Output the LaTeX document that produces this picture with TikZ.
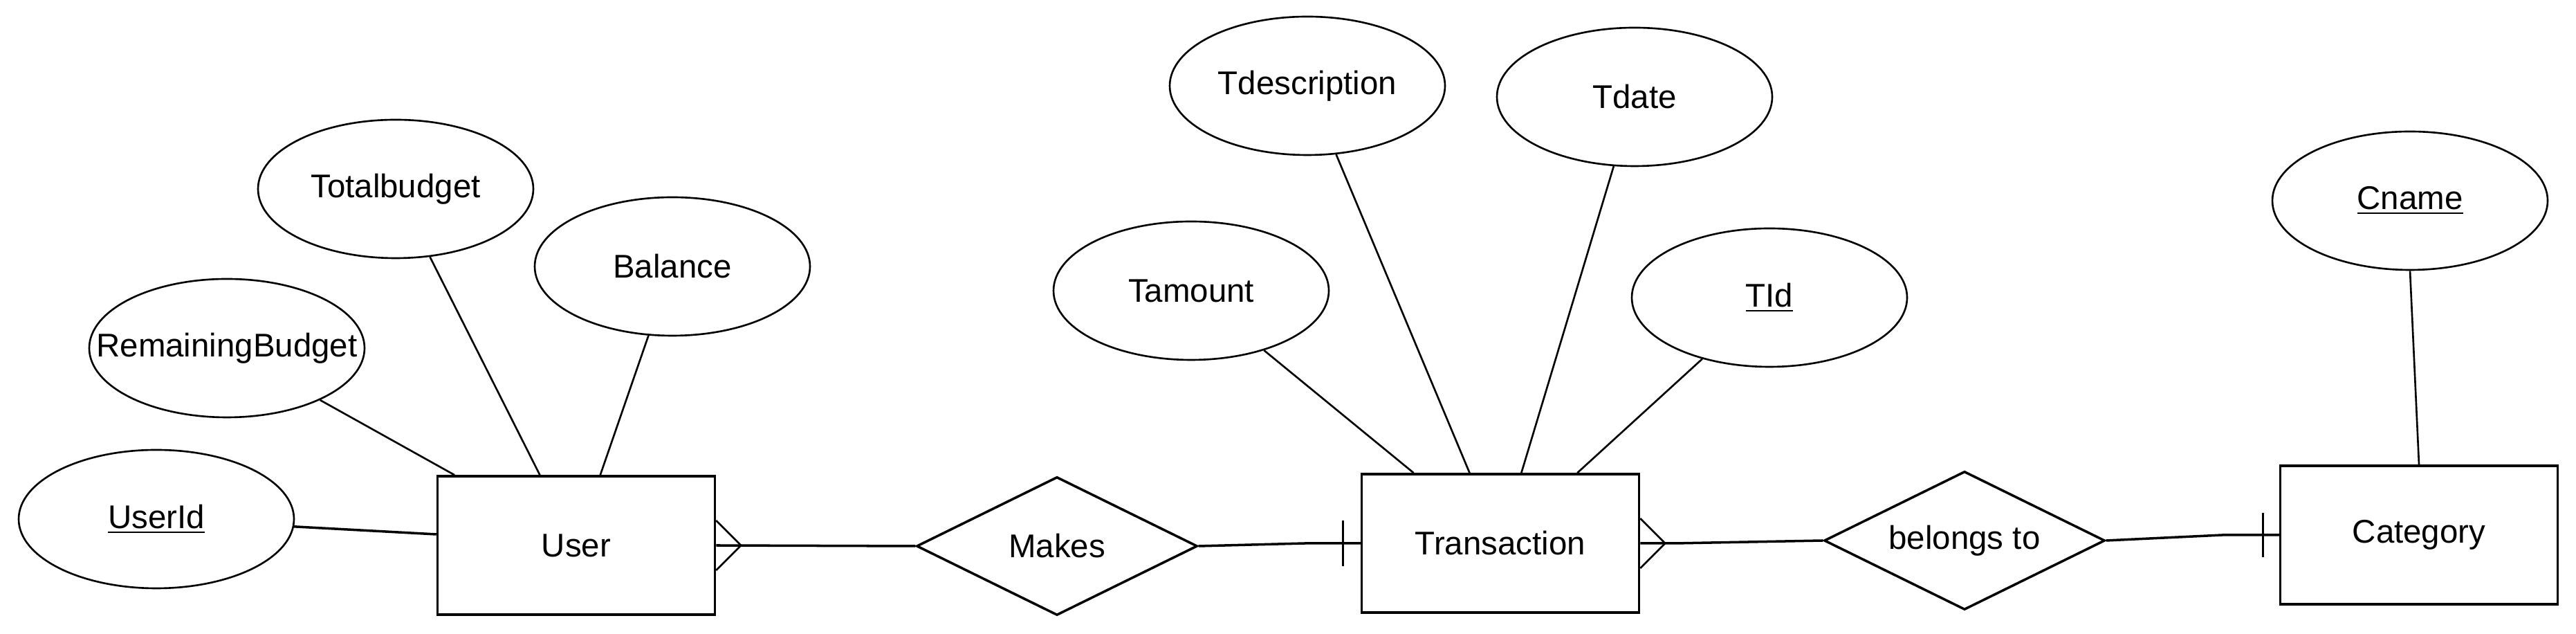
\documentclass[tikz,border=0pt]{standalone}
\usepackage{fontspec}
\setmainfont{Liberation Sans}
\usepackage{tikz}
\usetikzlibrary{calc, positioning, shapes.geometric}
\tikzset{
	line width = .75pt,
	font = \fontsize{13.5}{16}\selectfont,
	entity/.style={
		draw,
		rectangle,
		line width=1pt,
		minimum width=4.01cm,
		minimum height=2cm,
		inner sep=0pt
	},
	attribute/.style={
		draw,
		ellipse,
		line width=.75pt,
		minimum width=3.98cm,
		minimum height=2cm,
		inner sep=0pt
	},
	relation/.style={
		draw,
		diamond,
		aspect=2,
		line width=1pt,
		minimum width=4.06cm,
		minimum height=2cm,
		inner sep=0pt
	},
	link/.style={
		line width=.75pt
	},
	rel link/.style={
		line width=1pt
	}
}

\begin{document}
\begin{tikzpicture}
\path[use as bounding box] (0,0) rectangle (37.24,9.16);

% ---
% entities and relations
% ---
\node[entity] at (8.33,1.28) (e-user) {User};
\node[relation] at (15.28,1.27) (r-makes) {Makes};
\node[entity] at (21.69,1.31) (e-trans) {Transaction};
\node[relation] at (28.40,1.35) (r-belongs) {belongs to};
\node[entity] at (34.97,1.43) (e-cat) {Category};

% ---
% attributes
% ---
\node[attribute] at (2.26,1.66) (a-userid) {\underline{UserId}};
\node[attribute] at (3.28,4.13) (a-remaining) {\makebox[0pt]{RemainingBudget}};
\node[attribute] at (5.72,6.43) (a-total) {Totalbudget};
\node[attribute] at (9.72,5.31) (a-balance) {Balance};

\node[attribute] at (17.22,4.96) (a-tamount) {Tamount};
\node[attribute] at (18.90,7.92) (a-tdesc) {Tdescription};
\node[attribute] at (23.63,7.76) (a-tdate) {Tdate};
\node[attribute] at (25.58,4.86) (a-tid) {\underline{TId}};

\node[attribute] at (34.84,6.26) (a-cname) {\underline{Cname}};

% ---
% attribute links
% ---
\draw[rel link] (a-userid) -- ($(e-user.west)+(0,.16)$);
\draw[link] (a-remaining) -- ($(e-user.north west)!.065!(e-user.north east)$);
\draw[link] (a-total) -- ($(e-user.north west)!.37!(e-user.north east)$);
\draw[link] (a-balance) -- ($(e-user.north west)!.586!(e-user.north east)$);

\draw[link] (a-tamount) -- ($(e-trans.north west)!.19!(e-trans.north east)$);
\draw[link] (a-tdesc) -- ($(e-trans.north west)!.39!(e-trans.north east)$);
\draw[link] (a-tdate) -- ($(e-trans.north west)!.575!(e-trans.north east)$);
\draw[link] (a-tid) -- ($(e-trans.north west)!.775!(e-trans.north east)$);

\draw[link] (a-cname.south) -- (e-cat.north);

% ---
% relation links
% ---
\draw[rel link] (e-user.east) -- (r-makes.west);
\draw[link] ($(e-user.east)+(0,.36)$) -- ($(e-user.east)+(.36,0)$) -- ($(e-user.east)+(0,-.36)$);

\draw[rel link] (r-makes.east) -- ($(e-trans.west)+(-.8,0)$) -- (e-trans.west);
\draw[link] ($(e-trans.west)+(-.25,.33)$) -- ($(e-trans.west)+(-.25,-.33)$);

\draw[rel link] (e-trans.east) -- ++(.5,0) -- (r-belongs.west);
\draw[link] ($(e-trans.east)+(0,.36)$) -- ($(e-trans.east)+(.36,0)$) -- ($(e-trans.east)+(0,-.36)$);

\draw[rel link] (r-belongs.east) -- ($(e-cat.west)+(-.82,0)$) -- (e-cat.west);
\draw[link] ($(e-cat.west)+(-.23,.32)$) -- ($(e-cat.west)+(-.23,-.32)$);
\end{tikzpicture}
\end{document}
